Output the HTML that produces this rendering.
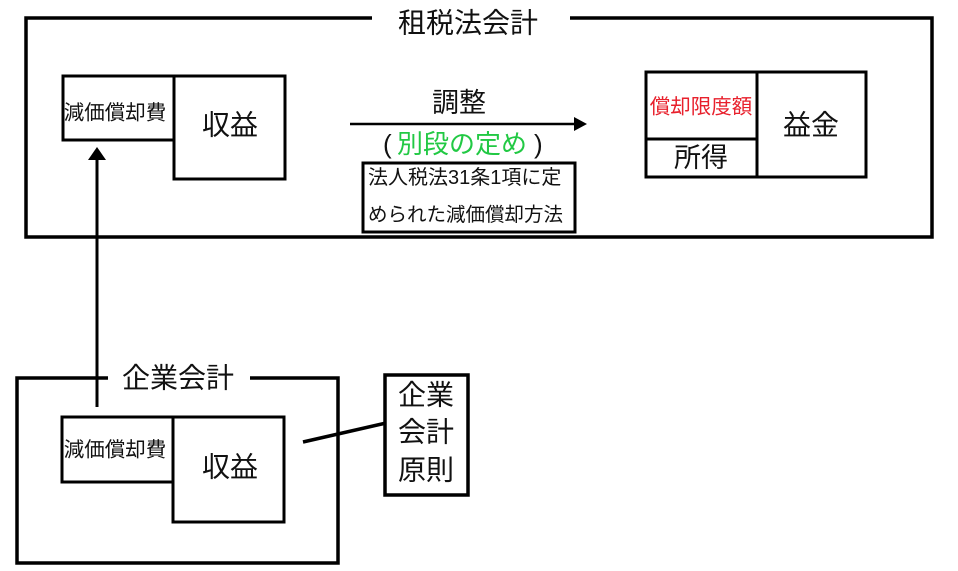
<!DOCTYPE html>
<html>
<head>
<meta charset="utf-8">
<style>
html,body{margin:0;padding:0;background:#fff;}
svg{display:block;}
text{font-family:"Liberation Sans","Noto Sans CJK JP",sans-serif;fill:#111;}
</style>
</head>
<body>
<svg width="958" height="571" viewBox="0 0 958 571" xmlns="http://www.w3.org/2000/svg">
  <g fill="none" stroke="#000" stroke-width="3.5">
    <!-- 租税法会計 outer frame -->
    <polyline points="372,18 26,18 26,237 932,237 932,18 570,18"/>
    <!-- top-left boxes -->
    <rect x="63" y="76" width="111" height="64" stroke-width="3"/>
    <rect x="174" y="76" width="111" height="103" stroke-width="3"/>
    <!-- rule box -->
    <rect x="363" y="163" width="212" height="69" stroke-width="3"/>
    <!-- right boxes -->
    <rect x="646" y="72" width="111" height="67" stroke-width="3"/>
    <rect x="646" y="139" width="111" height="38" stroke-width="3"/>
    <rect x="757" y="72" width="109" height="105" stroke-width="3"/>
    <!-- 企業会計 frame -->
    <polyline points="108,378 17,378 17,563 338,563 338,378 250,378"/>
    <rect x="62" y="417" width="111" height="65" stroke-width="3"/>
    <rect x="173" y="417" width="111" height="105" stroke-width="3"/>
    <!-- 企業会計原則 box -->
    <rect x="385" y="375" width="83" height="120"/>
    <!-- connector line -->
    <line x1="303" y1="442" x2="386" y2="423"/>
  </g>
  <!-- vertical arrow -->
  <line x1="97" y1="407" x2="97" y2="156" stroke="#000" stroke-width="3"/>
  <polygon points="88,160 97,147 106,160" fill="#000"/>
  <!-- horizontal arrow -->
  <line x1="350" y1="124" x2="578" y2="124" stroke="#000" stroke-width="2.5"/>
  <polygon points="574,117 587,124 574,131" fill="#000"/>

  <!-- titles -->
  <text x="468" y="23" font-size="28" text-anchor="middle" dominant-baseline="central">租税法会計</text>
  <text x="178" y="378" font-size="28" text-anchor="middle" dominant-baseline="central">企業会計</text>

  <!-- top-left texts -->
  <text x="115" y="113" font-size="20.5" text-anchor="middle" dominant-baseline="central">減価償却費</text>
  <text x="230" y="125" font-size="28" text-anchor="middle" dominant-baseline="central">収益</text>

  <!-- arrow labels -->
  <text x="459" y="103" font-size="27" text-anchor="middle" dominant-baseline="central">調整</text>
  <text x="383" y="144" font-size="26" dominant-baseline="central">(</text>
  <text x="462" y="144" font-size="26" text-anchor="middle" dominant-baseline="central" style="fill:#22c944">別段の定め</text>
  <text x="534" y="144" font-size="26" dominant-baseline="central">)</text>

  <!-- rule box text -->
  <text x="368" y="178" font-size="20" dominant-baseline="central">法人税法31条1項に定</text>
  <text x="368" y="215" font-size="19.5" dominant-baseline="central">められた減価償却方法</text>

  <!-- right texts -->
  <text x="701" y="107" font-size="20.5" text-anchor="middle" dominant-baseline="central" style="fill:#e8202c">償却限度額</text>
  <text x="701" y="158" font-size="27" text-anchor="middle" dominant-baseline="central">所得</text>
  <text x="811" y="125" font-size="28" text-anchor="middle" dominant-baseline="central">益金</text>

  <!-- bottom-left texts -->
  <text x="115" y="450" font-size="20.5" text-anchor="middle" dominant-baseline="central">減価償却費</text>
  <text x="230" y="467" font-size="28" text-anchor="middle" dominant-baseline="central">収益</text>

  <!-- 企業会計原則 -->
  <text x="426" y="395" font-size="28" text-anchor="middle" dominant-baseline="central">企業</text>
  <text x="426" y="432" font-size="28" text-anchor="middle" dominant-baseline="central">会計</text>
  <text x="426" y="470" font-size="28" text-anchor="middle" dominant-baseline="central">原則</text>
</svg>
</body>
</html>
